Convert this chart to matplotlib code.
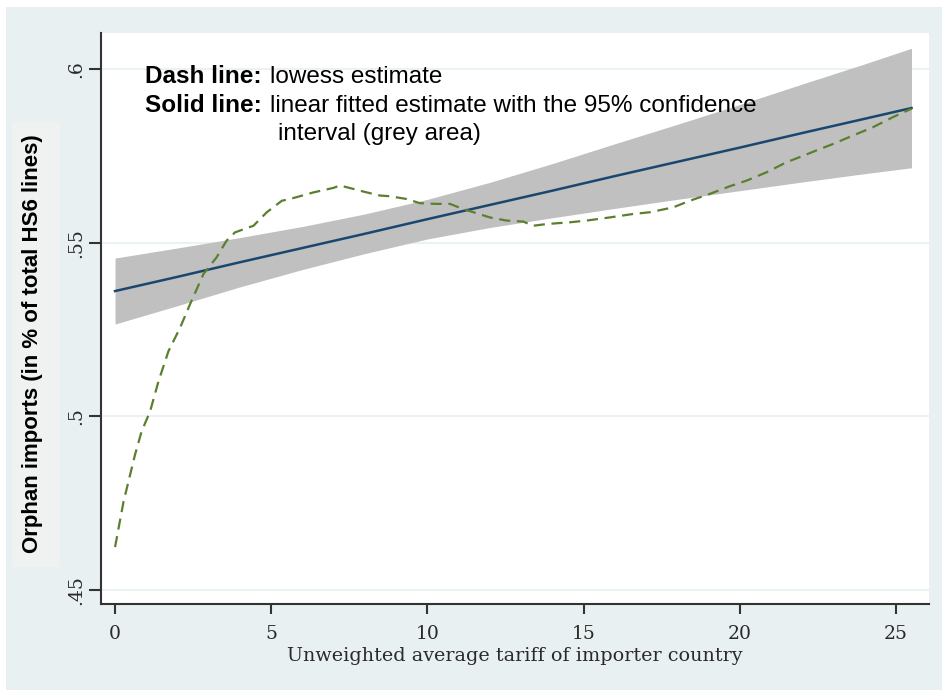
import matplotlib
matplotlib.use("Agg")
import matplotlib.pyplot as plt
from matplotlib.patches import Rectangle

# data -----------------------------------------------------------------------

# lowess estimate (dashed green)
lowess_x = [0.0, 0.27, 0.64, 0.85, 1.12, 1.39, 1.71, 2.08, 2.4, 2.83, 3.25, 3.57,
            3.84, 4.43, 4.86, 5.34, 5.6, 6.35, 6.99, 7.2, 8.06, 8.48, 8.8, 9.34,
            9.76, 10.3, 10.72, 11.15, 11.58, 12.0, 12.54, 13.07, 13.39, 13.82,
            14.56, 15.1, 15.84, 16.59, 17.13, 17.87, 18.4, 19.05, 19.69, 20.22,
            20.86, 21.5, 21.93, 22.46, 23.0, 23.63, 24.27, 24.91, 25.5]
lowess_y = [0.4624, 0.4754, 0.489, 0.4957, 0.5014, 0.5101, 0.5188, 0.5255, 0.5323,
            0.541, 0.5458, 0.5506, 0.553, 0.5549, 0.5588, 0.5621, 0.5626, 0.5645,
            0.5658, 0.5665, 0.5645, 0.5636, 0.5634, 0.5626, 0.5614, 0.5612, 0.5612,
            0.5597, 0.5585, 0.5573, 0.5564, 0.5561, 0.5549, 0.5554, 0.5559, 0.5564,
            0.5573, 0.5583, 0.5588, 0.5602, 0.5621, 0.5641, 0.5663, 0.5679, 0.5703,
            0.5732, 0.5747, 0.5766, 0.5785, 0.5809, 0.5833, 0.5862, 0.5886]

# linear fit with 95% CI (solid navy + grey band)
fit_x = [0, 2, 4, 6, 8, 10, 12, 14, 16, 18, 20, 22, 24, 25.5]
fit_y = [0.5361, 0.5402, 0.5444, 0.5485, 0.5526, 0.5568, 0.5609, 0.5650, 0.5692,
         0.5733, 0.5774, 0.5816, 0.5857, 0.5888]
ci_hi = [0.5456, 0.5485, 0.5515, 0.5547, 0.5583, 0.5625, 0.5674, 0.5728, 0.5785,
         0.5841, 0.5898, 0.5957, 0.6015, 0.6060]
ci_lo = [0.5266, 0.5319, 0.5373, 0.5423, 0.5469, 0.5511, 0.5544, 0.5572, 0.5599,
         0.5625, 0.5650, 0.5675, 0.5699, 0.5716]

x_ticks = [0, 5, 10, 15, 20, 25]
y_ticks = [0.45, 0.5, 0.55, 0.6]
y_tick_labels = [".45", ".5", ".55", ".6"]

# figure ---------------------------------------------------------------------

W, H = 942, 690
fig = plt.figure(figsize=(W / 100, H / 100), dpi=100, facecolor="white")

# outer stata-style background
fig.patches.append(Rectangle((6 / W, 0), 1 - 6 / W, 1 - 7 / H, transform=fig.transFigure,
                             facecolor="#e9f0f2", edgecolor="none", zorder=-3))
# box behind y title
fig.patches.append(Rectangle((12 / W, 1 - 567 / H), 48 / W, 445 / H, transform=fig.transFigure,
                             facecolor="#f0f1f1", edgecolor="none", zorder=-2))

ax = fig.add_axes([101 / W, 1 - 604 / H, 828 / W, 571 / H])
ax.set_facecolor("white")

ax.fill_between(fit_x, ci_lo, ci_hi, color="#c0c0c0", linewidth=0, zorder=2)
ax.plot(fit_x, fit_y, color="#1a476f", linewidth=1.8, zorder=3)
ax.plot(lowess_x, lowess_y, color="#5b7f2e", linewidth=1.6, dashes=(5, 3), zorder=4)

ax.set_xlim(-0.45, 26.06)
ax.set_ylim(0.446, 0.6104)

# grid lines
for yv in y_ticks:
    ax.axhline(yv, color="#eaf2f3", linewidth=1.5, zorder=1)

ax.spines["top"].set_visible(False)
ax.spines["right"].set_visible(False)
for s in ("left", "bottom"):
    ax.spines[s].set_color("#333333")
    ax.spines[s].set_linewidth(1.5)

serif = dict(fontfamily="DejaVu Serif", color="#2a2a2a")
ax.set_xticks(x_ticks)
ax.set_xticklabels([str(t) for t in x_ticks], fontsize=13.5, **serif)
ax.set_yticks(y_ticks)
ax.set_yticklabels(y_tick_labels, fontsize=13.5, rotation=90, va="center", **serif)
ax.tick_params(axis="x", length=7, width=1.5, color="#333333", pad=8)
ax.tick_params(axis="y", length=9, width=1.5, color="#333333", pad=2)

ax.set_xlabel("Unweighted average tariff of importer country", fontsize=13.8,
              labelpad=3, **serif)

fig.text(33 / W, 1 - 344 / H, "Orphan imports (in % of total HS6 lines)",
         rotation=90, ha="center", va="center", fontfamily="Liberation Sans",
         fontweight="bold", fontsize=16, color="black")

# annotation text
fs = 17.5
fig.text(145 / W, 1 - 83 / H, "Dash line:", fontfamily="Liberation Sans", fontweight="bold",
         fontsize=fs, va="baseline")
fig.text(270 / W, 1 - 83 / H, "lowess estimate", fontfamily="Liberation Sans",
         fontsize=fs, va="baseline")
fig.text(145 / W, 1 - 112 / H, "Solid line:", fontfamily="Liberation Sans", fontweight="bold",
         fontsize=fs, va="baseline")
fig.text(270 / W, 1 - 112 / H, "linear fitted estimate with the 95% confidence",
         fontfamily="Liberation Sans", fontsize=fs, va="baseline")
fig.text(278 / W, 1 - 140 / H, "interval (grey area)", fontfamily="Liberation Sans",
         fontsize=fs, va="baseline")

fig.savefig("out.png", dpi=100, facecolor=fig.get_facecolor())
